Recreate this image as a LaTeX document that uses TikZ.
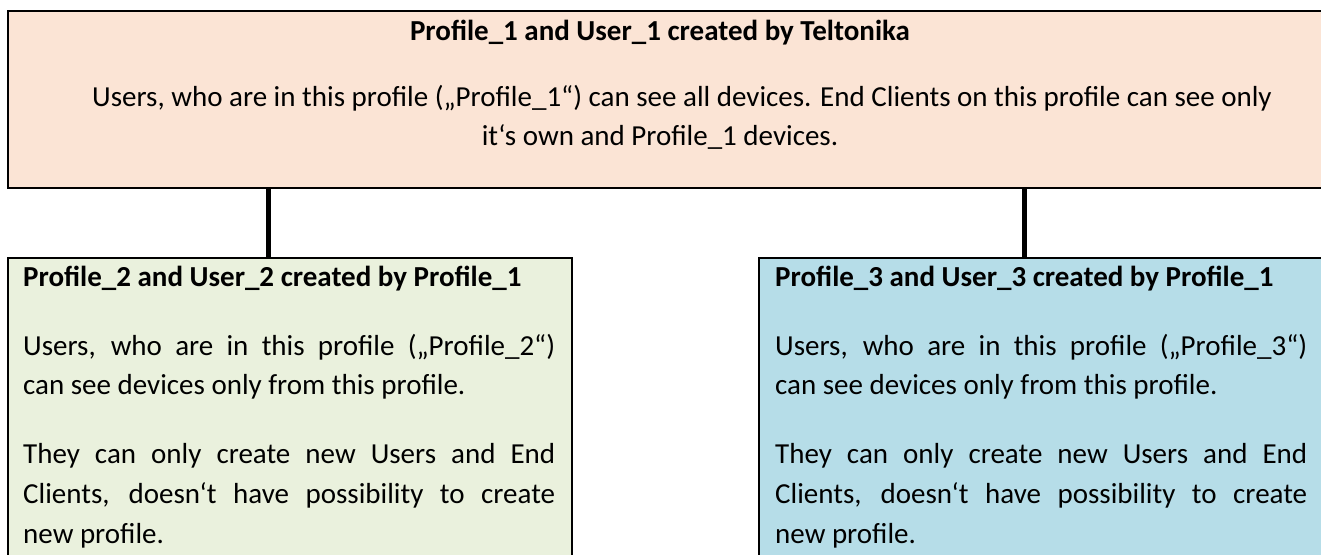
\documentclass[tikz,border=0pt]{standalone}
\usepackage{fontspec}
\setmainfont{Carlito}
\definecolor{peach}{HTML}{FBE4D5}
\definecolor{olivelight}{HTML}{EAF1DD}
\definecolor{aqualight}{HTML}{B6DDE8}
\newcommand{\jline}[1]{\makebox[532pt][s]{#1}}
\begin{document}
\begin{tikzpicture}[x=1pt,y=-1pt,
  box/.style={draw=black, line width=2pt, inner sep=0pt, anchor=north west},
  link/.style={draw=black, line width=5pt},
  txt/.style={inner sep=0pt, font=\fontsize{29}{39}\selectfont},
  ttl/.style={txt, font=\fontsize{29}{39}\selectfont\bfseries}]
\useasboundingbox (0,0) rectangle (1321,554);
% boxes
\node[box, fill=peach, minimum width=1340pt, minimum height=177pt] (top) at (7,10) {};
\node[box, fill=olivelight, minimum width=564pt, minimum height=320pt] (left) at (7,257) {};
\node[box, fill=aqualight, minimum width=564pt, minimum height=320pt] (right) at (758,257) {};
% connectors
\coordinate (c1) at (268,0);
\coordinate (c2) at (1024,0);
\draw[link] (top.south -| c1) -- (left.north -| c1);
\draw[link] (top.south -| c2) -- (right.north -| c2);
% top texts
\node[ttl, anchor=base] (t0) at (660,40) {Profile\_1 and User\_1 created by Teltonika};
\node[txt, anchor=base] (t1) at (682,106) {Users, who are in this profile („Profile\_1“) can see all devices. End Clients on this profile can see only};
\node[txt, anchor=base] (t2) at (660,145) {it‘s own and Profile\_1 devices.};
% left texts
\node[ttl, anchor=base west] (l0) at (23,286) {Profile\_2 and User\_2 created by Profile\_1};
\node[txt, anchor=base west] (l1) at (23,355) {\jline{Users, who are in this profile („Profile\_2“)}};
\node[txt, anchor=base west] (l2) at (23,394) {can see devices only from this profile.};
\node[txt, anchor=base west] (l3) at (23,463) {\jline{They can only create new Users and End}};
\node[txt, anchor=base west] (l4) at (23,503) {\jline{Clients, doesn‘t have possibility to create}};
\node[txt, anchor=base west] (l5) at (23,543) {new profile.};
% right texts
\node[ttl, anchor=base west] (r0) at (775,286) {Profile\_3 and User\_3 created by Profile\_1};
\node[txt, anchor=base west] (r1) at (775,355) {\jline{Users, who are in this profile („Profile\_3“)}};
\node[txt, anchor=base west] (r2) at (775,394) {can see devices only from this profile.};
\node[txt, anchor=base west] (r3) at (775,463) {\jline{They can only create new Users and End}};
\node[txt, anchor=base west] (r4) at (775,503) {\jline{Clients, doesn‘t have possibility to create}};
\node[txt, anchor=base west] (r5) at (775,543) {new profile.};
\end{tikzpicture}
\end{document}
